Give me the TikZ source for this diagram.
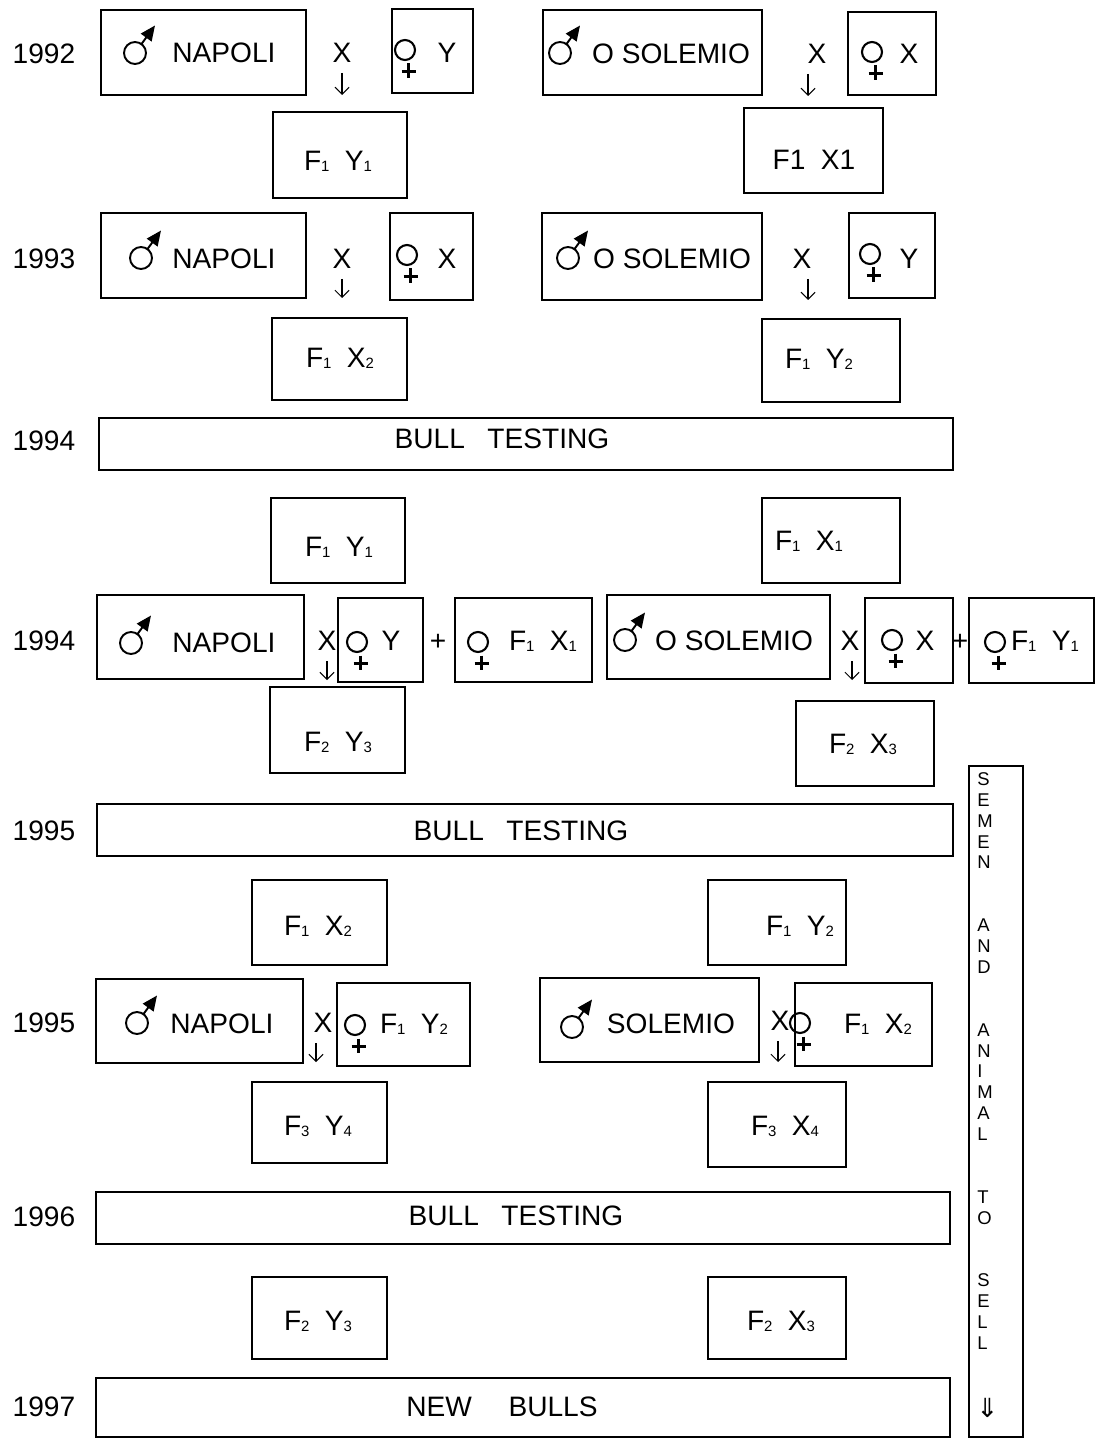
\documentclass[tikz,border=0pt]{standalone}
\usepackage{fontspec}
\setmainfont{Liberation Sans}
\newfontfamily\arrowfont{DejaVu Sans}
\usetikzlibrary{fit,arrows.meta}

\newcommand{\ix}[1]{\raisebox{-0.6pt}{\fontsize{8.5}{9}\selectfont #1}}

\tikzset{
  box/.style={draw, line width=0.9pt, inner sep=0pt},
  txt/.style={font=\fontsize{16}{19}\selectfont, inner sep=0pt, text height=11.5pt, text depth=0pt},
  sideletter/.style={font=\fontsize{10.5}{12}\selectfont, inner sep=0pt, anchor=west},
  dn/.style={-{Straight Barb[length=4pt,width=8pt]}, line width=0.6pt, shorten <=6pt},
  male/.pic={
    \draw[line width=1.1pt] (0,0) circle (0.22cm);
    \draw[line width=1.1pt, -{Triangle[length=0.3cm,width=0.26cm]}] (0.13cm,0.18cm) -- (0.40cm,0.55cm);
  },
  female/.pic={
    \draw[line width=1.2pt] (0,0) circle (0.2cm);
    \draw[line width=1.8pt] (0.07cm,-0.27cm) -- (0.07cm,-0.56cm)
      (-0.07cm,-0.43cm) -- (0.21cm,-0.43cm);
  },
}

\begin{document}
\begin{tikzpicture}[x=0.02cm, y=-0.02cm]
  \useasboundingbox (0,0) rectangle (1100,1439);
  % years
  \foreach \yr/\yy [count=\i] in {1992/53, 1993/258, 1994/440, 1994/640, 1995/830, 1995/1022, 1996/1216, 1997/1406}
    \node[txt] (year\i) at (44,\yy) {\yr};

  % 1992
  \node[box, fit={(101,10) (306,95)}] (m92a) {};
  \pic at (135,53) {male};
  \node[txt] (m92at) at (224,52) {NAPOLI};
  \node[txt] (c92a) at (342,52) {X};
  \node[box, fit={(392,9) (473,93)}] (f92a) {};
  \pic at (405,50) {female};
  \node[txt] (f92at) at (447,52) {Y};
  \node[box, fit={(273,112) (407,198)}] (o92a) {};
  \node[txt] (o92at) at (338,160) {F\ix{1}\hspace{0.55em}Y\ix{1}};
  \coordinate (t92a) at (342,95);
  \draw[dn] (c92a.south -| t92a) -- (t92a);

  \node[box, fit={(543,10) (762,95)}] (m92b) {};
  \pic at (560,53) {male};
  \node[txt] (m92bt) at (671,53) {O SOLEMIO};
  \node[txt] (c92b) at (817,53) {X};
  \node[box, fit={(848,12) (936,95)}] (f92b) {};
  \pic at (872,52) {female};
  \node[txt] (f92bt) at (909,53) {X};
  \node[box, fit={(744,108) (883,193)}] (o92b) {};
  \node[txt] (o92bt) at (814,159) {F1\hspace{0.55em}X1};
  \coordinate (t92b) at (808,96);
  \draw[dn] (c92b.south -| t92b) -- (t92b);

  % 1993
  \node[box, fit={(101,213) (306,298)}] (m93a) {};
  \pic at (141,258) {male};
  \node[txt] (m93at) at (224,258) {NAPOLI};
  \node[txt] (c93a) at (342,258) {X};
  \node[box, fit={(390,213) (473,300)}] (f93a) {};
  \pic at (407,255) {female};
  \node[txt] (f93at) at (447,258) {X};
  \node[box, fit={(272,318) (407,400)}] (o93a) {};
  \node[txt] (o93at) at (340,357) {F\ix{1}\hspace{0.55em}X\ix{2}};
  \coordinate (t93a) at (342,298);
  \draw[dn] (c93a.south -| t93a) -- (t93a);

  \node[box, fit={(542,213) (762,300)}] (m93b) {};
  \pic at (568,258) {male};
  \node[txt] (m93bt) at (672,258) {O SOLEMIO};
  \node[txt] (c93b) at (802,258) {X};
  \node[box, fit={(849,213) (935,298)}] (f93b) {};
  \pic at (870,254) {female};
  \node[txt] (f93bt) at (909,258) {Y};
  \node[box, fit={(762,319) (900,402)}] (o93b) {};
  \node[txt] (o93bt) at (819,358) {F\ix{1}\hspace{0.55em}Y\ix{2}};
  \coordinate (t93b) at (808,300);
  \draw[dn] (c93b.south -| t93b) -- (t93b);

  % 1994 testing
  \node[box, fit={(99,418) (953,470)}] (bt94) {};
  \node[txt] (bt94t) at (502,438) {BULL\hspace{0.8em}TESTING};
  \node[box, fit={(271,498) (405,583)}] (s94a) {};
  \node[txt] (s94at) at (339,546) {F\ix{1}\hspace{0.55em}Y\ix{1}};
  \node[box, fit={(762,498) (900,583)}] (s94b) {};
  \node[txt] (s94bt) at (809,540) {F\ix{1}\hspace{0.55em}X\ix{1}};

  % 1994 crosses
  \node[box, fit={(97,595) (304,679)}] (m94a) {};
  \pic at (131,643) {male};
  \node[txt] (m94at) at (224,642) {NAPOLI};
  \node[txt] (c94a) at (327,640) {X};
  \node[box, fit={(338,598) (423,682)}] (f94a) {};
  \pic at (357,642) {female};
  \node[txt] (f94at) at (391,640) {Y};
  \node[txt] (p94a) at (438,640) {+};
  \node[box, fit={(455,598) (592,682)}] (g94a) {};
  \pic at (478,642) {female};
  \node[txt] (g94at) at (543,640) {F\ix{1}\hspace{0.55em}X\ix{1}};
  \node[box, fit={(270,687) (405,773)}] (o94a) {};
  \node[txt] (o94at) at (338,741) {F\ix{2}\hspace{0.55em}Y\ix{3}};
  \coordinate (t94a) at (327,680);
  \draw[dn] (c94a.south -| t94a) -- (t94a);

  \node[box, fit={(607,595) (830,679)}] (m94b) {};
  \pic at (625,640) {male};
  \node[txt] (m94bt) at (734,640) {O SOLEMIO};
  \node[txt] (c94b) at (850,640) {X};
  \node[box, fit={(865,598) (953,683)}] (f94b) {};
  \pic at (892,640) {female};
  \node[txt] (f94bt) at (925,640) {X};
  \node[txt] (p94b) at (960,640) {+};
  \node[box, fit={(969,598) (1094,683)}] (g94b) {};
  \pic at (995,642) {female};
  \node[txt] (g94bt) at (1045,640) {F\ix{1}\hspace{0.55em}Y\ix{1}};
  \node[box, fit={(796,701) (934,786)}] (o94b) {};
  \node[txt] (o94bt) at (863,743) {F\ix{2}\hspace{0.55em}X\ix{3}};
  \coordinate (t94b) at (852,680);
  \draw[dn] (c94b.south -| t94b) -- (t94b);

  % 1995 testing
  \node[box, fit={(97,804) (953,856)}] (bt95) {};
  \node[txt] (bt95t) at (521,830) {BULL\hspace{0.8em}TESTING};
  \node[box, fit={(252,880) (387,965)}] (s95a) {};
  \node[txt] (s95at) at (318,925) {F\ix{1}\hspace{0.55em}X\ix{2}};
  \node[box, fit={(708,880) (846,965)}] (s95b) {};
  \node[txt] (s95bt) at (800,925) {F\ix{1}\hspace{0.55em}Y\ix{2}};

  % 1995 crosses
  \node[box, fit={(96,979) (303,1063)}] (m95a) {};
  \pic at (137,1023) {male};
  \node[txt] (m95at) at (222,1023) {NAPOLI};
  \node[txt] (c95a) at (323,1022) {X};
  \node[box, fit={(337,983) (470,1066)}] (f95a) {};
  \pic at (355,1025) {female};
  \node[txt] (f95at) at (414,1023) {F\ix{1}\hspace{0.55em}Y\ix{2}};
  \node[box, fit={(252,1082) (387,1163)}] (o95a) {};
  \node[txt] (o95at) at (318,1125) {F\ix{3}\hspace{0.55em}Y\ix{4}};
  \coordinate (t95a) at (316,1062);
  \draw[dn] (c95a.south -| t95a) -- (t95a);

  \node[box, fit={(540,978) (759,1062)}] (m95b) {};
  \pic at (572,1027) {male};
  \node[txt] (m95bt) at (671,1023) {SOLEMIO};
  \node[txt] (c95b) at (780,1020) {X};
  \node[box, fit={(795,983) (932,1066)}] (f95b) {};
  \pic at (800,1023) {female};
  \node[txt] (f95bt) at (878,1023) {F\ix{1}\hspace{0.55em}X\ix{2}};
  \node[box, fit={(708,1082) (846,1167)}] (o95b) {};
  \node[txt] (o95bt) at (785,1125) {F\ix{3}\hspace{0.55em}X\ix{4}};
  \coordinate (t95b) at (778,1062);
  \draw[dn] (c95b.south -| t95b) -- (t95b);

  % 1996 testing
  \node[box, fit={(96,1192) (950,1244)}] (bt96) {};
  \node[txt] (bt96t) at (516,1215) {BULL\hspace{0.8em}TESTING};
  \node[box, fit={(252,1277) (387,1359)}] (s96a) {};
  \node[txt] (s96at) at (318,1320) {F\ix{2}\hspace{0.55em}Y\ix{3}};
  \node[box, fit={(708,1277) (846,1359)}] (s96b) {};
  \node[txt] (s96bt) at (781,1320) {F\ix{2}\hspace{0.55em}X\ix{3}};

  % 1997
  \node[box, fit={(96,1378) (950,1437)}] (nb97) {};
  \node[txt] (nb97t) at (502,1406) {NEW\hspace{1.3em}BULLS};

  % side column
  \node[box, fit={(969,766) (1023,1437)}] (side) {};
  \foreach \ch/\k in {S/0,E/1,M/2,E/3,N/4,A/7,N/8,D/9,A/12,N/13,I/14,M/15,A/16,L/17,T/20,O/21,S/24,E/25,L/26,L/27}
    \node[sideletter] (sl\k) at (977,{779+20.9*\k}) {\ch};
  \node[sideletter, font=\arrowfont\fontsize{15}{16}\selectfont] (sl30) at (976,1408) {⇓};
\end{tikzpicture}
\end{document}
